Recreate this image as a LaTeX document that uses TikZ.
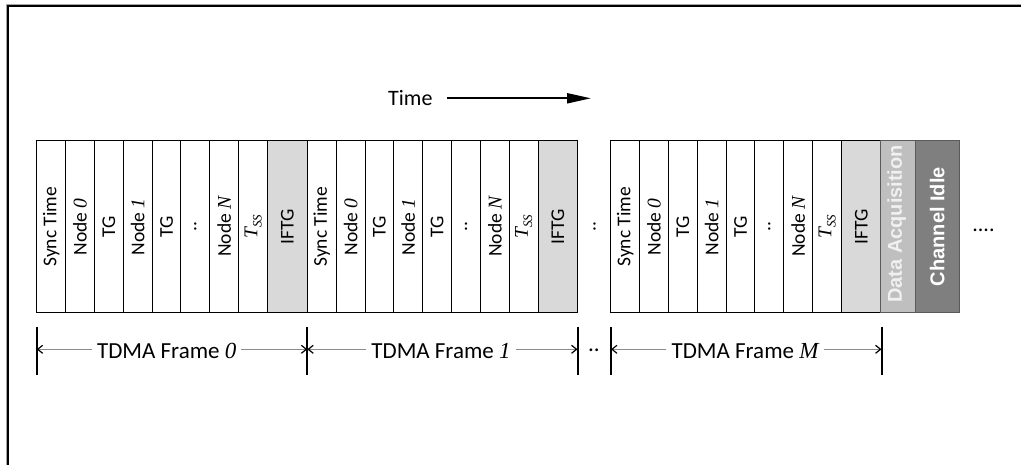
\documentclass[tikz,border=0pt]{standalone}
\usepackage{fontspec}
\setmainfont{Carlito}
\newfontfamily\serfont{Liberation Serif}
\newfontfamily\arialfont{Liberation Sans}
\usetikzlibrary{arrows.meta,calc}
\definecolor{iftggray}{HTML}{D9D9D9}
\definecolor{dagray}{HTML}{BFBFBF}
\definecolor{cigray}{HTML}{7F7F7F}
\definecolor{boxedge}{HTML}{5A5A5A}
\definecolor{dimline}{HTML}{8C8C8C}
\definecolor{shadowgray}{HTML}{A6A6A6}
\newcommand\mi[1]{{\serfont\itshape #1}}
\newcommand\tss{{\serfont\itshape T\raisebox{-0.22em}{\fontsize{13}{13}\selectfont SS}}}
\begin{document}
\begin{tikzpicture}[x=1pt,y=-1pt,
  slotbox/.style={draw=black, line width=1pt, fill=white, rotate=90,
    minimum width=172.5pt, minimum height=28.85pt, inner sep=0pt,
    font=\fontsize{19.5}{22}\selectfont},
  iftgbox/.style={slotbox, fill=iftggray, minimum height=39.6pt},
  dimbar/.style={draw=black, line width=2pt},
  dimarrow/.style={draw=dimline, line width=1pt,
    -{Straight Barb[length=5pt,width=8pt,color=black,line width=1.2pt]}},
  dimlabel/.style={inner xsep=5pt, inner ysep=0pt, anchor=base,
    text height=19.4pt, text depth=0pt, font=\fontsize{23}{27}\selectfont},
  whitebold/.style={text=white, font=\arialfont\bfseries\fontsize{20}{24}\selectfont}
]
\useasboundingbox (0,0) rectangle (1021,465);
% outer frame (only top and left edges visible)
\draw[shadowgray, line width=1pt] (6.5,470) -- (6.5,4.2) -- (1030,4.2);
\draw[black, line width=2pt] (8,470) -- (8,5.7) -- (1030,5.7);

% Time arrow
\node[anchor=base west, inner sep=0pt, font=\fontsize{22}{26}\selectfont] (time) at (388,105.7) {Time};
\coordinate (timestart) at (447,98.3);
\coordinate (timeend) at (591,98.3);
\draw[black, line width=2pt, -{Triangle[length=24pt,width=10pt]}] (timestart) -- (timeend);

% TDMA frames
\foreach \fr/\x in {0/36.7, 1/307.3, 2/610.7} {
  \foreach \i/\t in {0/{Sync Time}, 1/{Node \mi{0}}, 2/{TG}, 3/{Node \mi{1}}, 4/{TG}, 5/{..}, 6/{Node \mi{N}}, 7/{\tss}} {
    \node[slotbox] (f\fr s\i) at ({\x+28.85*\i+14.425}, 226.75) {\t};
  }
  \node[iftgbox] (f\fr iftg) at ({\x+28.85*8+19.8}, 226.75) {IFTG};
}
% dots between frame 1 and frame M
\node[rotate=90, inner sep=0pt, font=\fontsize{19.5}{22}\selectfont] (gapdots) at (594.5,226.75) {..};

% Data Acquisition
\node[slotbox, fill=dagray, draw=boxedge, minimum height=34.4pt] (da) at (898.1,226.75) {};
\begin{scope}
  \clip (da.south west) rectangle (da.north east);
  \node[whitebold, text=white!94!black, rotate=90, anchor=west, inner sep=0pt] (datext) at (896.7,303) {Data Acquisition};
\end{scope}
% Channel Idle
\node[slotbox, fill=cigray, draw=boxedge, minimum height=44pt, whitebold] (ci) at (937.3,226.75) {Channel Idle};
% trailing dots
\node[anchor=base, inner sep=0pt, font=\fontsize{22}{26}\selectfont] (taildots) at (983.5,231.5) {....};

% dimension bars
\foreach \n/\bx in {0/36.7, 1/307.3, 2/577.5, 3/611, 4/881.5} {
  \coordinate (b\n t) at (\bx,327);
  \coordinate (b\n b) at (\bx,375);
  \draw[dimbar] (b\n t) -- (b\n b);
}
% labels
\node[dimlabel] (l0) at (166.7,359) {TDMA Frame \mi{0}};
\node[dimlabel] (l1) at (441,359) {TDMA Frame \mi{1}};
\node[dimlabel] (lm) at (745,359) {TDMA Frame \mi{M}};
\draw[dimarrow] (l0.west) -- (l0.west -| b0t);
\draw[dimarrow] (l0.east) -- (l0.east -| b1t);
\draw[dimarrow] (l1.west) -- (l1.west -| b1t);
\draw[dimarrow] (l1.east) -- (l1.east -| b2t);
\draw[dimarrow] (lm.west) -- (lm.west -| b3t);
\draw[dimarrow] (lm.east) -- (lm.east -| b4t);
\node[anchor=base, inner sep=0pt, font=\fontsize{23}{27}\selectfont] (botdots) at (594,352) {..};
\end{tikzpicture}
\end{document}
